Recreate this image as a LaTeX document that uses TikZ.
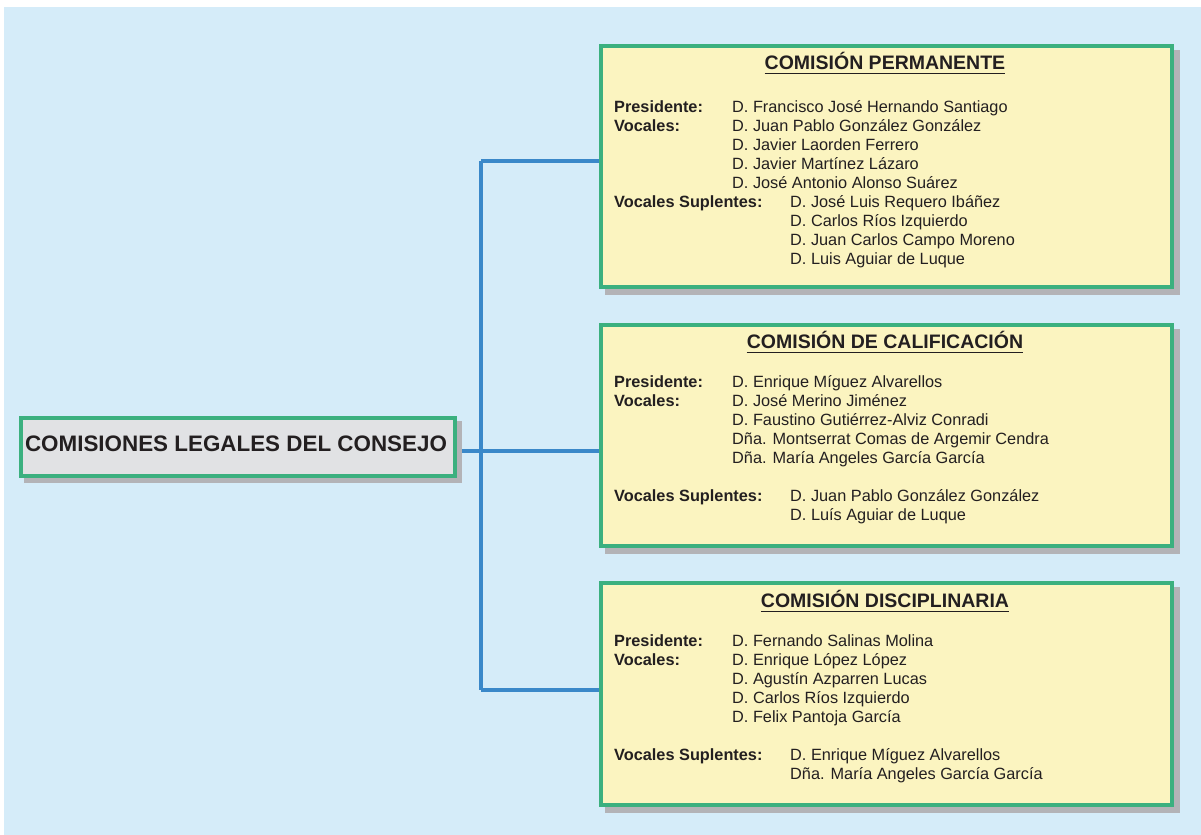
\documentclass[tikz,border=0pt]{standalone}
\usepackage{fontspec}
\setmainfont{Liberation Sans}
\definecolor{bgblue}{HTML}{D5ECF9}
\definecolor{paneyellow}{HTML}{FBF4C0}
\definecolor{mainfill}{HTML}{E1E2E4}
\definecolor{boxgreen}{HTML}{3BB07F}
\definecolor{shadowgray}{HTML}{B3B3B7}
\definecolor{linkblue}{HTML}{3A88C9}
\definecolor{textdark}{HTML}{231F20}
\begin{document}
\begin{tikzpicture}[x=1bp,y=-1bp,
  shadowbox/.style={fill=shadowgray,draw=none},
  panel/.style={draw=boxgreen,line width=4bp,fill=paneyellow},
  mainbox/.style={draw=boxgreen,line width=4bp,fill=mainfill},
  link/.style={draw=linkblue,line width=3.5bp},
  body/.style={anchor=base west,inner sep=0pt,text=textdark,font=\fontsize{16.3bp}{19bp}\selectfont},
  lbl/.style={body,font=\fontsize{16.3bp}{19bp}\selectfont\bfseries},
  ptitle/.style={anchor=base,inner sep=0pt,text=textdark,font=\fontsize{19.5bp}{22bp}\selectfont\bfseries},
  uline/.style={draw=textdark,line width=1.5bp}]
\useasboundingbox (0,0) rectangle (1201,835);
\fill[white] (0,0) rectangle (1201,835);
\fill[bgblue] (4,7) rectangle (1201,835);

% connectors
\coordinate (bt) at (481,161);
\coordinate (bb) at (481,690);
\coordinate (bm) at (481,451);
\coordinate (px) at (599,451);
\coordinate (mx) at (455,451);
\draw[link] (bt) -- (bb);
\draw[link] (bt) -- (bt -| px);
\draw[link] (bb) -- (bb -| px);
\draw[link] (mx) -- (px);

% shadows
\fill[shadowgray] (24,421) rectangle (462,483);
\fill[shadowgray] (605,50) rectangle (1180,295);
\fill[shadowgray] (605,329) rectangle (1180,554);
\fill[shadowgray] (605,587) rectangle (1180,813);

% boxes
\node[mainbox,anchor=north west,inner sep=0pt,minimum width=434bp,minimum height=58bp] (main) at (19,416) {};
\node[panel,anchor=north west,inner sep=0pt,minimum width=571bp,minimum height=241bp] (p1) at (599,44) {};
\node[panel,anchor=north west,inner sep=0pt,minimum width=571bp,minimum height=221bp] (p2) at (599,323) {};
\node[panel,anchor=north west,inner sep=0pt,minimum width=571bp,minimum height=222bp] (p3) at (599,581) {};

\node[anchor=base,inner sep=0pt,text=textdark,font=\fontsize{22.4bp}{26bp}\selectfont\bfseries] (mt) at (236,451) {COMISIONES LEGALES DEL CONSEJO};

% panel 1
\node[ptitle] (t1) at (885,69) {COMISIÓN PERMANENTE};
\draw[uline] ([yshift=-4.5bp]t1.base west) -- ([yshift=-4.5bp]t1.base east);
\node[lbl] (a1) at (614,112) {Presidente:};
\node[body] (a2) at (732,112) {D. Francisco José Hernando Santiago};
\node[lbl] (a3) at (614,131) {Vocales:};
\node[body] (a4) at (732,131) {D. Juan Pablo González González};
\node[body] (a5) at (732,150) {D. Javier Laorden Ferrero};
\node[body] (a6) at (732,169) {D. Javier Martínez Lázaro};
\node[body] (a7) at (732,188) {D. José Antonio Alonso Suárez};
\node[lbl] (a8) at (614,207) {Vocales Suplentes:};
\node[body] (a9) at (790,207) {D. José Luis Requero Ibáñez};
\node[body] (a10) at (790,226) {D. Carlos Ríos Izquierdo};
\node[body] (a11) at (790,245) {D. Juan Carlos Campo Moreno};
\node[body] (a12) at (790,264) {D. Luis Aguiar de Luque};

% panel 2
\node[ptitle] (t2) at (885,348) {COMISIÓN DE CALIFICACIÓN};
\draw[uline] ([yshift=-4.5bp]t2.base west) -- ([yshift=-4.5bp]t2.base east);
\node[lbl] (b1) at (614,387) {Presidente:};
\node[body] (b2) at (732,387) {D. Enrique Míguez Alvarellos};
\node[lbl] (b3) at (614,406) {Vocales:};
\node[body] (b4) at (732,406) {D. José Merino Jiménez};
\node[body] (b5) at (732,425) {D. Faustino Gutiérrez-Alviz Conradi};
\node[body] (b6) at (732,444) {Dña. Montserrat Comas de Argemir Cendra};
\node[body] (b7) at (732,463) {Dña. María Angeles García García};
\node[lbl] (b8) at (614,501) {Vocales Suplentes:};
\node[body] (b9) at (790,501) {D. Juan Pablo González González};
\node[body] (b10) at (790,520) {D. Luís Aguiar de Luque};

% panel 3
\node[ptitle] (t3) at (885,607) {COMISIÓN DISCIPLINARIA};
\draw[uline] ([yshift=-4.5bp]t3.base west) -- ([yshift=-4.5bp]t3.base east);
\node[lbl] (c1) at (614,646) {Presidente:};
\node[body] (c2) at (732,646) {D. Fernando Salinas Molina};
\node[lbl] (c3) at (614,665) {Vocales:};
\node[body] (c4) at (732,665) {D. Enrique López López};
\node[body] (c5) at (732,684) {D. Agustín Azparren Lucas};
\node[body] (c6) at (732,703) {D. Carlos Ríos Izquierdo};
\node[body] (c7) at (732,722) {D. Felix Pantoja García};
\node[lbl] (c8) at (614,760) {Vocales Suplentes:};
\node[body] (c9) at (790,760) {D. Enrique Míguez Alvarellos};
\node[body] (c10) at (790,779) {Dña. María Angeles García García};
\end{tikzpicture}
\end{document}
